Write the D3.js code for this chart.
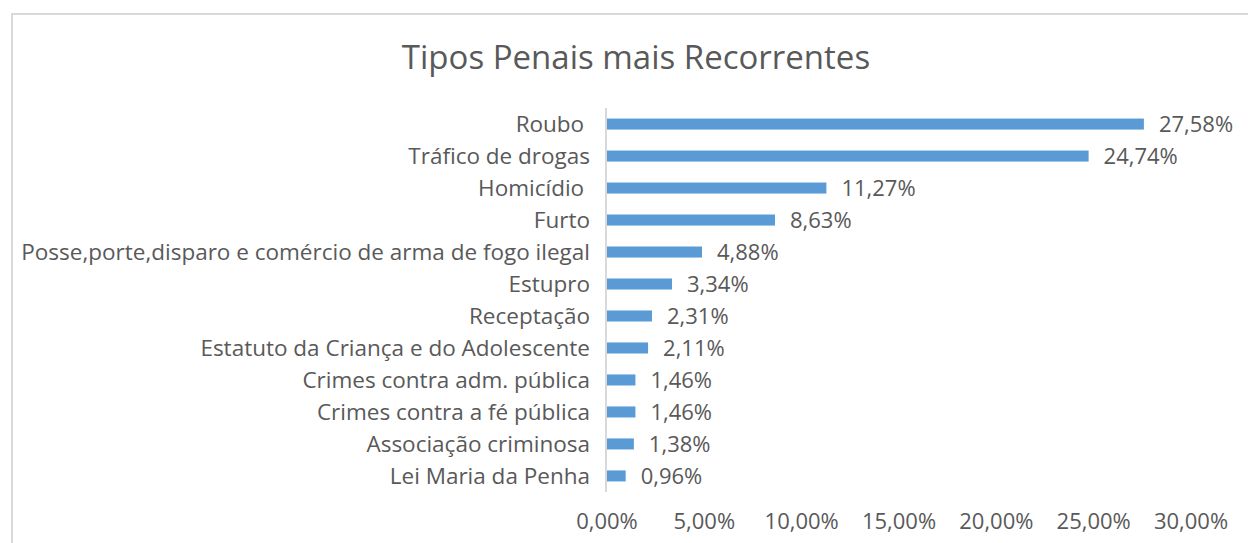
<!DOCTYPE html>
<html lang="pt">
	<head>
		<meta charset="utf-8">
		<title>Tipos Penais mais Recorrentes</title>
		<style type="text/css">
			body { margin: 0; background: #fff; }
			text { font-family: "Open Sans", sans-serif; fill: #595959; }
		</style>
	</head>
	<body>
		<script src="https://d3js.org/d3.v7.min.js"></script>
		<script>
			//Data
			var categories = ["Roubo ", "Tráfico de drogas", "Homicídio ", "Furto",
				"Posse,porte,disparo e comércio de arma de fogo ilegal", "Estupro",
				"Receptação", "Estatuto da Criança e do Adolescente",
				"Crimes contra adm. pública", "Crimes contra a fé pública",
				"Associação criminosa", "Lei Maria da Penha"];
			var values = [27.58, 24.74, 11.27, 8.63, 4.88, 3.34, 2.31, 2.11, 1.46, 1.46, 1.38, 0.96];
			var tickValues = [0, 5, 10, 15, 20, 25, 30];

			var w = 1248;
			var h = 543;
			var fmt = function(v) { return v.toFixed(2).replace(".", ",") + "%"; };

			var svg = d3.select("body")
						.append("svg")
						.attr("width", w)
						.attr("height", h);

			//Chart border
			svg.append("rect")
			   .attr("x", 12)
			   .attr("y", 14)
			   .attr("width", w + 10)
			   .attr("height", h + 10)
			   .attr("fill", "none")
			   .attr("stroke", "#d9d9d9")
			   .attr("stroke-width", 2);

			//Title
			svg.append("text")
			   .attr("x", 636)
			   .attr("y", 69)
			   .attr("text-anchor", "middle")
			   .attr("font-size", "33px")
			   .text("Tipos Penais mais Recorrentes");

			var xScale = d3.scaleLinear()
							.domain([0, 30])
							.range([606, 1190]);
			var yScale = d3.scaleBand()
							.domain(categories)
							.range([108, 492])
							.paddingInner(0.655)
							.paddingOuter(0.33);

			//Bars
			svg.selectAll("rect.bar")
			   .data(values)
			   .enter()
			   .append("rect")
			   .attr("class", "bar")
			   .attr("x", xScale(0) + 1)
			   .attr("y", function(d, i) { return yScale(categories[i]); })
			   .attr("width", function(d) { return xScale(d) - xScale(0); })
			   .attr("height", yScale.bandwidth())
			   .attr("fill", "#5b9bd5");

			//Vertical axis line
			svg.append("line")
			   .attr("x1", xScale(0))
			   .attr("x2", xScale(0))
			   .attr("y1", 108)
			   .attr("y2", 492)
			   .attr("stroke", "#d9d9d9")
			   .attr("stroke-width", 2);

			//Category labels
			svg.selectAll("text.cat")
			   .data(categories)
			   .enter()
			   .append("text")
			   .attr("class", "cat")
			   .attr("x", 590)
			   .attr("y", function(d) { return yScale(d) + yScale.bandwidth() / 2; })
			   .attr("dy", "0.35em")
			   .attr("text-anchor", "end")
			   .attr("font-size", "22.5px")
			   .style("white-space", "pre")
			   .text(function(d) { return d; });

			//Value labels
			svg.selectAll("text.val")
			   .data(values)
			   .enter()
			   .append("text")
			   .attr("class", "val")
			   .attr("x", function(d) { return xScale(d) + 16; })
			   .attr("y", function(d, i) { return yScale(categories[i]) + yScale.bandwidth() / 2; })
			   .attr("dy", "0.35em")
			   .attr("font-size", "22px")
			   .text(fmt);

			//Tick labels
			svg.selectAll("text.tick")
			   .data(tickValues)
			   .enter()
			   .append("text")
			   .attr("class", "tick")
			   .attr("x", function(d) { return xScale(d) + 1; })
			   .attr("y", 521)
			   .attr("dy", "0.35em")
			   .attr("text-anchor", "middle")
			   .attr("font-size", "22px")
			   .text(fmt);
		</script>
	</body>
</html>
